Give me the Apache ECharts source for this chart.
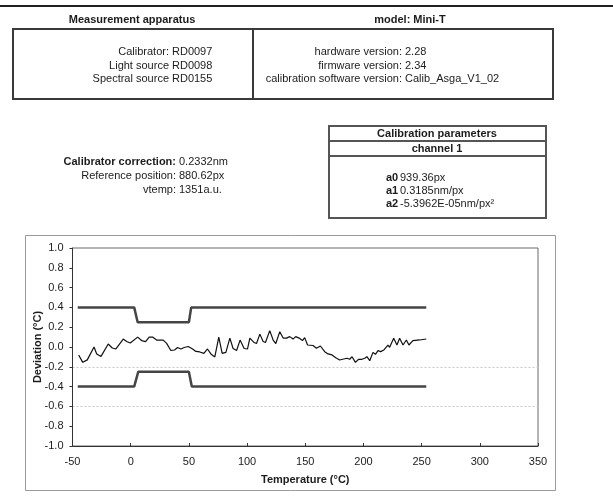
<!DOCTYPE html>
<html>
<head>
<meta charset="utf-8">
<title>Mini-T calibration report</title>
<script src="https://cdn.jsdelivr.net/npm/echarts@6/dist/echarts.min.js"></script>
<style>
  html, body { margin: 0; padding: 0; background: #fff; }
  #chart { width: 613px; height: 498px; }
</style>
</head>
<body>
<div id="chart"></div>
<script>
// Temperature deviation measured across the sweep (°C)
const sweepTemps = [
  -44.7, -41.2, -37.3, -31.5, -29.2, -25.5, -19.3, -15.8, -12.7, -6.4, -3.5, -0.4,
  6.0, 9.4, 12.8, 15.9, 18.8, 22.3, 25.1, 28.0, 30.9, 34.5, 37.7, 40.3, 43.1, 46.0,
  49.4, 53.2, 56.0, 59.4, 62.9, 66.0, 68.9, 72.3, 75.7, 78.6, 81.8, 85.2, 88.0, 91.0,
  94.0, 97.5, 100.4, 102.4, 106.1, 108.1, 111.0, 113.8, 115.8, 119.5, 122.4, 124.7,
  128.1, 131.0, 133.9, 136.7, 139.5, 141.8, 144.7, 147.6, 149.5, 152.0, 156.7, 159.6,
  163.0, 166.7, 169.6, 173.0, 176.2, 179.6, 183.1, 185.9, 188.2, 190.2, 193.1, 195.9,
  198.8, 201.1, 203.0, 205.4, 208.2, 210.3, 212.5, 214.8, 217.6, 221.1, 222.5, 226.0,
  228.8, 231.1, 234.0, 236.9, 239.1, 242.5, 248.3, 254.0
];
const sweepDeviation = [
  -0.08, -0.155, -0.13, 0.0, -0.07, -0.095, 0.03, -0.01, -0.02, 0.08, 0.055, 0.04,
  0.10, 0.065, 0.055, 0.10, 0.10, 0.07, 0.07, 0.07, 0.037, -0.035, -0.03, -0.005, -0.02, -0.005,
  0.005, -0.02, -0.045, -0.05, -0.065, -0.02, -0.07, -0.10, 0.10, -0.065, -0.055, 0.09, -0.015, -0.035,
  0.07, -0.015, -0.02, 0.09, 0.045, 0.035, 0.13, 0.055, 0.045, 0.165, 0.07, 0.035,
  0.155, 0.09, 0.09, 0.105, 0.08, 0.105, 0.09, 0.065, 0.095, 0.02, 0.015, -0.013,
  0.01, -0.047, -0.07, -0.08, -0.108, -0.131, -0.121, -0.114, -0.124, -0.098, -0.155, -0.124,
  -0.124, -0.114, -0.098, -0.138, -0.054, -0.074, -0.037, -0.047, -0.03, 0.02, -0.003, 0.088,
  0.02, 0.088, 0.02, 0.071, 0.02, 0.064, 0.071, 0.081
];

// Tolerance band (upper and lower limits)
const upperLimitTemps = [-45.5, 3, 6, 50, 52, 254];
const upperLimitValues = [0.4, 0.4, 0.25, 0.25, 0.4, 0.4];
const lowerLimitTemps = [-45.5, 3, 6.5, 50, 52.5, 254];
const lowerLimitValues = [-0.4, -0.4, -0.25, -0.25, -0.4, -0.4];

// Axis ranges
const tempAxis = { min: -50, max: 350, step: 50 };
const devAxis = { min: -1.0, max: 1.0, step: 0.2 };

// Report header texts
const apparatusRows = [
  ['Calibrator:', 'RD0097'],
  ['Light source', 'RD0098'],
  ['Spectral source', 'RD0155']
];
const versionRows = [
  ['hardware version:', '2.28'],
  ['firmware version:', '2.34'],
  ['calibration software version:', 'Calib_Asga_V1_02']
];
const correctionRows = [
  ['Calibrator correction:', '0.2332nm', true],
  ['Reference position:', '880.62px', false],
  ['vtemp:', '1351a.u.', false]
];
const coefficientRows = [
  ['a0', '939.36px'],
  ['a1', '0.3185nm/px'],
  ['a2', '-5.3962E-05nm/px\u00B2']
];

const FONT = '"Liberation Sans", Arial, Helvetica, sans-serif';
const INK = '#1c1c1c';
const RULE = '#3a3a3a';

function pairs(xs, ys) { return xs.map((x, i) => [x, ys[i]]); }

function txt(x, y, text, opts) {
  opts = opts || {};
  return {
    type: 'text', silent: true,
    style: {
      x: x, y: y, text: text, fill: INK,
      font: (opts.bold ? 'bold ' : '') + (opts.size || 11) + 'px ' + FONT,
      align: opts.align || 'left', verticalAlign: 'middle'
    }
  };
}
function hline(x1, x2, y, w, color) {
  return { type: 'line', silent: true, shape: { x1: x1, y1: y, x2: x2, y2: y },
           style: { stroke: color || RULE, lineWidth: w || 2 } };
}
function vline(x, y1, y2, w, color) {
  return { type: 'line', silent: true, shape: { x1: x, y1: y1, x2: x, y2: y2 },
           style: { stroke: color || RULE, lineWidth: w || 2 } };
}
function box(x, y, w, h, lw, color) {
  return { type: 'rect', silent: true, shape: { x: x, y: y, width: w, height: h },
           style: { fill: 'none', stroke: color || RULE, lineWidth: lw || 2 } };
}

const graphics = [];
// page rule
graphics.push(hline(0, 613, 6, 2, '#222'));
// apparatus table
graphics.push(txt(132, 20, 'Measurement apparatus', { bold: true, align: 'center' }));
graphics.push(txt(410, 20, 'model: Mini-T', { bold: true, align: 'center' }));
graphics.push(box(13, 29, 540, 70, 2));
graphics.push(vline(253, 29, 99, 2));
apparatusRows.forEach((r, i) => {
  graphics.push(txt(169, 52 + i * 13.5, r[0], { align: 'right' }));
  graphics.push(txt(172, 52 + i * 13.5, r[1]));
});
versionRows.forEach((r, i) => {
  graphics.push(txt(402, 52 + i * 13.5, r[0], { align: 'right' }));
  graphics.push(txt(405, 52 + i * 13.5, r[1]));
});
// correction block
correctionRows.forEach((r, i) => {
  graphics.push(txt(176, 162 + i * 14, r[0], { align: 'right', bold: r[2] }));
  graphics.push(txt(179, 162 + i * 14, r[1]));
});
// calibration parameters table
graphics.push(box(329, 126, 217, 92, 2, '#555'));
graphics.push(hline(329, 546, 141, 2, '#555'));
graphics.push(hline(329, 546, 156, 2, '#555'));
graphics.push(txt(437, 133.5, 'Calibration parameters', { bold: true, align: 'center' }));
graphics.push(txt(437, 148.5, 'channel 1', { bold: true, align: 'center' }));
coefficientRows.forEach((r, i) => {
  graphics.push(txt(386, 178 + i * 13, r[0], { bold: true }));
  graphics.push(txt(400, 178 + i * 13, r[1]));
});
// chart frame
graphics.push(box(25.5, 235.5, 530, 255, 1, '#9a9a9a'));

// split lines: only -0.6 and -0.2 show faintly
const splitColors = ['transparent', 'transparent', '#c8c8c8', 'transparent', '#c8c8c8',
  'transparent', 'transparent', 'transparent', 'transparent', 'transparent', 'transparent'];

const chart = echarts.init(document.getElementById('chart'), null, { renderer: 'canvas' });
chart.setOption({
  backgroundColor: '#ffffff',
  animation: false,
  textStyle: { fontFamily: FONT, color: INK },
  graphic: { elements: graphics },
  grid: {
    left: 72.5, top: 248, width: 465.5, height: 198,
    show: true, borderColor: '#6a6a6a', borderWidth: 1, backgroundColor: 'transparent'
  },
  xAxis: {
    type: 'value', min: tempAxis.min, max: tempAxis.max, interval: tempAxis.step,
    name: 'Temperature (\u00B0C)', nameLocation: 'middle', nameGap: 28, nameMoveOverlap: false,
    nameTextStyle: { fontWeight: 'bold', fontSize: 11, color: INK, fontFamily: FONT },
    axisLine: { show: true, onZero: false, lineStyle: { color: '#333', width: 1 } },
    axisTick: { show: true, inside: true, length: 3, lineStyle: { color: '#333' } },
    axisLabel: { fontSize: 11, color: INK, margin: 10, fontFamily: FONT },
    splitLine: { show: false }
  },
  yAxis: {
    type: 'value', min: devAxis.min, max: devAxis.max, interval: devAxis.step,
    name: 'Deviation (\u00B0C)', nameLocation: 'middle', nameGap: 29, nameRotate: 90,
    nameMoveOverlap: false,
    nameTextStyle: { fontWeight: 'bold', fontSize: 11, color: INK, fontFamily: FONT },
    axisLine: { show: true, onZero: false, lineStyle: { color: '#333', width: 1 } },
    axisTick: { show: true, length: 3, lineStyle: { color: '#333' } },
    axisLabel: { fontSize: 11, color: INK, margin: 9, fontFamily: FONT,
                 formatter: v => v.toFixed(1) },
    splitLine: { show: true, lineStyle: { color: splitColors, width: 1, type: [2, 2] } }
  },
  series: [
    {
      name: 'upper limit', type: 'line', data: pairs(upperLimitTemps, upperLimitValues),
      showSymbol: false, lineStyle: { color: '#454545', width: 2.5 }, z: 2
    },
    {
      name: 'lower limit', type: 'line', data: pairs(lowerLimitTemps, lowerLimitValues),
      showSymbol: false, lineStyle: { color: '#454545', width: 2.5 }, z: 2
    },
    {
      name: 'deviation', type: 'line', data: pairs(sweepTemps, sweepDeviation),
      showSymbol: false, lineStyle: { color: '#111', width: 1.2 }, z: 3
    }
  ]
});
</script>
</body>
</html>
